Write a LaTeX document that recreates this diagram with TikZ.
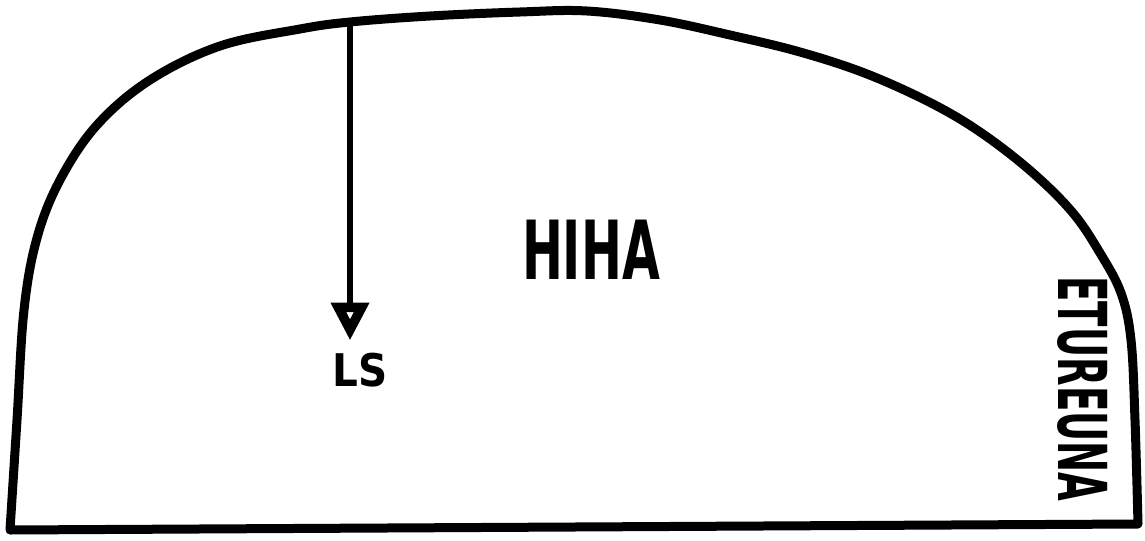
\documentclass[tikz,border=0pt]{standalone}
\usepackage{fontspec}
\setmainfont{DejaVu Sans}
\usepackage{tikz}
\usetikzlibrary{arrows.meta}

\begin{document}
\begin{tikzpicture}[x=0.025cm, y=-0.025cm, >={Triangle[open, length=0.95cm, width=0.9cm, line width=7pt]},
    outline/.style={line width=6.4pt, line join=round},
    label/.style={font=\bfseries, inner sep=0pt}]
    \useasboundingbox (0,0) rectangle (1145,540);
    % sleeve piece
    \draw[outline] plot[smooth, tension=0.6] coordinates {
        (10,530) (17,420) (24,310) (37,238) (60,180) (97,125) (150,80)
        (220,46) (300,29) (350,22) (430,16) (520,12)
        (587,11) (660,20) (730,35) (800,52) (867,74) (933,104) (983,134)
        (1033,173) (1073,213) (1100,253) (1121,293) (1131,340) (1135,420)
        (1138,524)} -- cycle;
    \node[label, font=\bfseries\fontsize{58}{58}\selectfont] (hiha) at (591,250) {\scalebox{0.6}[1]{HIHA}};
    \node[label, font=\bfseries\fontsize{32}{32}\selectfont] (ls) at (360,370) {\scalebox{0.9}[1]{LS}};
    \node[label, font=\bfseries\fontsize{48}{48}\selectfont, rotate=-90] (etureuna) at (1083,389) {\scalebox{0.55}[1]{ETUREUNA}};
    \coordinate (lstop) at (350,22);
    \draw[line width=4.3pt, ->] (lstop) -- (lstop |- ls.north) [shorten >=0.3cm];
\end{tikzpicture}
\end{document}
